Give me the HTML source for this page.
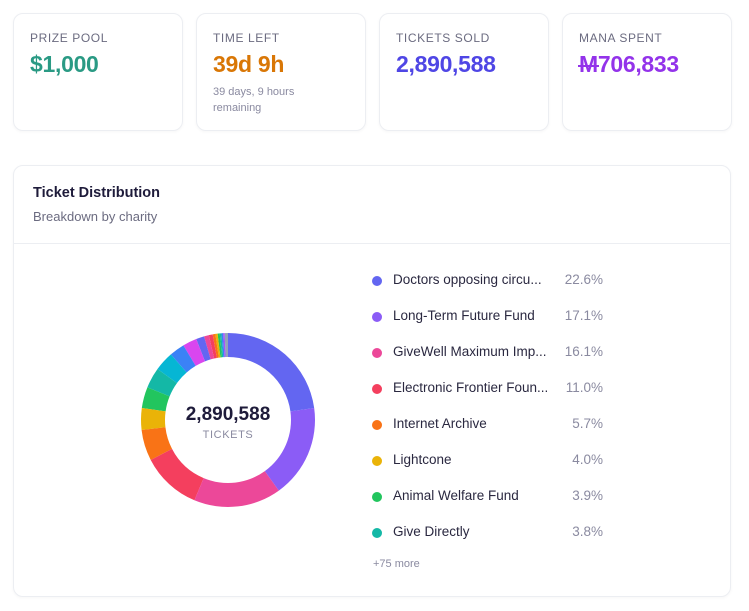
<!DOCTYPE html>
<html><head><meta charset="utf-8">
<style>
*{box-sizing:border-box;margin:0;padding:0}
body{width:749px;height:611px;background:#fff;font-family:"Liberation Sans",sans-serif;position:relative;overflow:hidden;color:#1e1b3a}
.card{position:absolute;top:13px;width:170px;height:118px;border:1px solid #eceef2;border-radius:10px;box-shadow:0 1px 3px rgba(0,0,0,0.04);padding:17px 16px}
.lab{font-size:12px;letter-spacing:0.6px;color:#6b6b80}
.val{font-size:23px;font-weight:bold;margin-top:6px;letter-spacing:-0.3px}
.sub{font-size:11px;color:#8a8aa0;margin-top:6px;line-height:16px}
#main{position:absolute;left:13px;top:165px;width:718px;height:432px;border:1px solid #eceef2;border-radius:10px;box-shadow:0 1px 3px rgba(0,0,0,0.04)}
.row{position:absolute;left:0;height:20px;width:260px;font-size:13.5px}
.dot{position:absolute;left:-5px;top:5px;width:10px;height:10px;border-radius:50%}
.nm{position:absolute;left:16px;top:1px;color:#2a2840}
.pc{position:absolute;right:0;top:1px;color:#8a8aa0}
.mana{position:relative;display:inline-block}
.mana::after{content:"";position:absolute;left:-1px;right:-1px;top:50%;border-top:2.5px solid #9333ea}
</style></head><body>
<div class="card" style="left:13px"><div class="lab">PRIZE POOL</div><div class="val" style="color:#2a9a84">$1,000</div></div>
<div class="card" style="left:196px"><div class="lab">TIME LEFT</div><div class="val" style="color:#d97706">39d 9h</div><div class="sub">39 days, 9 hours<br>remaining</div></div>
<div class="card" style="left:379px"><div class="lab">TICKETS SOLD</div><div class="val" style="color:#4f46e5">2,890,588</div></div>
<div class="card" style="left:562px"><div class="lab">MANA SPENT</div><div class="val" style="color:#9333ea"><span class="mana">M</span>706,833</div></div>
<div id="main">
 <div style="position:absolute;left:19px;top:19px;font-size:14.5px;font-weight:bold;color:#1e1b3a">Ticket Distribution</div>
 <div style="position:absolute;left:19px;top:43px;font-size:13px;color:#6b6b80">Breakdown by charity</div>
 <div style="position:absolute;left:0;right:0;top:77px;border-top:1px solid #eceef2"></div>
</div>
<svg id="donut" width="749" height="611" style="position:absolute;left:0;top:0">
 <text x="228" y="420" text-anchor="middle" font-size="19" font-weight="bold" fill="#1e1b3a" font-family="Liberation Sans, sans-serif">2,890,588</text>
 <text x="228" y="438" text-anchor="middle" font-size="11" fill="#8a8aa0" letter-spacing="0.6" font-family="Liberation Sans, sans-serif">TICKETS</text>
</svg>
<div id="legend" style="position:absolute;left:377px;top:0;width:226px"></div>
<div style="position:absolute;left:373px;top:558px;font-size:11px;color:#8a8aa0">+75 more</div>
<script>
const names=["Doctors opposing circu...","Long-Term Future Fund","GiveWell Maximum Imp...","Electronic Frontier Foun...","Internet Archive","Lightcone","Animal Welfare Fund","Give Directly","Other A","Other B","Other C","Other D","Other E","Other F","Other G","Other H","Other I","Other J","Other K","Other L","Other M"];
const values=[22.6,17.1,16.1,11.0,5.7,4.0,3.9,3.8,3.6,2.8,2.6,1.5,0.9,0.7,0.5,0.4,0.4,0.3,0.3,0.3,0.6];
const colors=["#6366f1","#8b5cf6","#ec4899","#f43f5e","#f97316","#eab308","#22c55e","#14b8a6","#06b6d4","#3b82f6","#d946ef","#6366f1","#ec4899","#f43f5e","#f97316","#eab308","#22c55e","#14b8a6","#3b82f6","#a855f7","#94a3b8"];
const legendCount=8;
const cx=228,cy=420,R=87,r=63;
const svg=document.getElementById('donut');
const total=values.reduce((a,b)=>a+b,0);
let a0=-Math.PI/2;
function pt(rad,a){return [cx+rad*Math.cos(a),cy+rad*Math.sin(a)];}
values.forEach((v,i)=>{
 const a1=a0+v/total*2*Math.PI;
 const [x1,y1]=pt(R,a0),[x2,y2]=pt(R,a1),[x3,y3]=pt(r,a1),[x4,y4]=pt(r,a0);
 const lg=(a1-a0)>Math.PI?1:0;
 const p=document.createElementNS('http://www.w3.org/2000/svg','path');
 p.setAttribute('d',`M${x1},${y1}A${R},${R} 0 ${lg} 1 ${x2},${y2}L${x3},${y3}A${r},${r} 0 ${lg} 0 ${x4},${y4}Z`);
 p.setAttribute('fill',colors[i]);
 
 
 svg.insertBefore(p,svg.firstChild);
 a0=a1;
});
const lg=document.getElementById('legend');
for(let i=0;i<legendCount;i++){
 const d=document.createElement('div');
 d.className='row';d.style.top=(271+i*36)+'px';d.style.width='226px';
 
 
 d.innerHTML=`<span class="dot" style="background:${colors[i]}"></span><span class="nm">${names[i]}</span><span class="pc">${values[i].toFixed(1)}%</span>`;
 lg.appendChild(d);
}
</script>
</body></html>
